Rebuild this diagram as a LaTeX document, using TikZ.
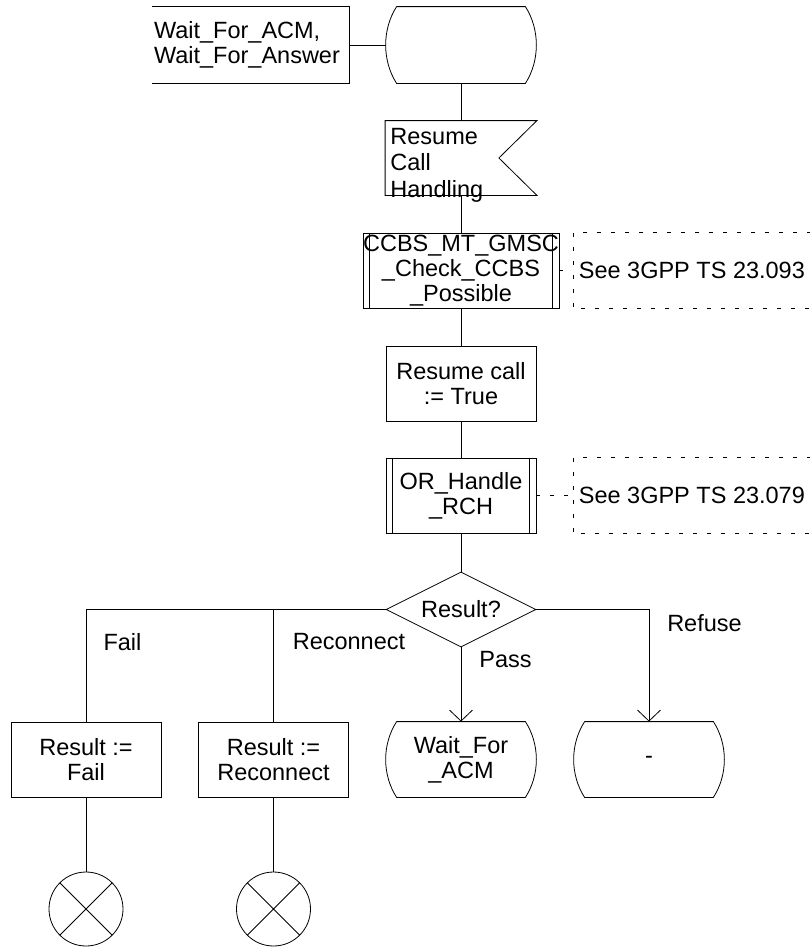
\documentclass[tikz,border=0pt]{standalone}
\usepackage{fontspec}
\setmainfont{Liberation Sans}
\usepackage{tikz}
\usetikzlibrary{shapes.geometric, arrows.meta, positioning, calc}

% outline of an SDL state symbol round a named node
\newcommand{\stateshape}[1]{%
  \draw ([xshift=11pt]#1.north west) -- ([xshift=-11pt]#1.north east)
    .. controls ([xshift=3.6pt,yshift=-22.8pt]#1.north east) and ([xshift=3.6pt,yshift=22.8pt]#1.south east) .. ([xshift=-11pt]#1.south east)
    -- ([xshift=11pt]#1.south west)
    .. controls ([xshift=-3.6pt,yshift=22.8pt]#1.south west) and ([xshift=-3.6pt,yshift=-22.8pt]#1.north west) .. ([xshift=11pt]#1.north west);}

\begin{document}
\begin{tikzpicture}[x=1pt, y=-1pt, line width=0.8pt,
  font=\fontsize{23.5}{25}\selectfont,
  box/.style={draw, rectangle, minimum width=150pt, minimum height=75pt, inner sep=0pt, align=center},
  statebox/.style={rectangle, minimum width=150pt, minimum height=75pt, inner sep=0pt, align=center},
  decision/.style={draw, diamond, aspect=2, minimum width=150pt, minimum height=75pt, inner sep=0pt},
  stopsign/.style={draw, circle, minimum size=74pt, inner sep=0pt,
    path picture={\draw (path picture bounding box.north west) -- (path picture bounding box.south east)
      (path picture bounding box.north east) -- (path picture bounding box.south west);}},
  cmtline/.style={dash pattern=on 4pt off 10pt},
  flow/.style={-{Straight Barb[length=11pt, width=23pt]}}]
\useasboundingbox (0,0) rectangle (810,948);

% Start state with its comment
\node[rectangle, minimum width=197pt, minimum height=76pt, text width=193pt, inner xsep=2pt, align=left] (cmt) at (250.5,45) {Wait\_For\_ACM,\\Wait\_For\_Answer};
\draw (cmt.north west) -- (cmt.north east) -- (cmt.south east) -- (cmt.south west);
\node[statebox, minimum height=76pt] (start) at (461,45) {};
\stateshape{start}
\draw (cmt.east) -- (start.west);

% Input signal
\node[statebox, minimum width=151pt, minimum height=74pt] (resume) at (461,158) {};
\draw (resume.north west) -- (resume.north east) -- ([xshift=-38pt]resume.east) -- (resume.south east) -- (resume.south west) -- cycle;
\node[anchor=north west, inner sep=0pt, align=left, font=\fontsize{23.5}{26.5}\selectfont] (resumetxt) at (390,127.5) {Resume\\Call\\Handling};
\draw (start) -- (resume);

% CCBS check procedure
\node[box] (ccbs) at (461,270.5) {CCBS\_MT\_GMSC\\\_Check\_CCBS\\\_Possible};
\draw ([xshift=7pt]ccbs.north west) -- ([xshift=7pt]ccbs.south west);
\draw ([xshift=-7pt]ccbs.north east) -- ([xshift=-7pt]ccbs.south east);
\draw (resume) -- (ccbs);
\node[rectangle, minimum width=237pt, minimum height=75pt, anchor=west] (see1) at (573,270.5) {See 3GPP TS 23.093};
\draw[cmtline] (see1.north east) -- (see1.north west) -- (see1.south west) -- (see1.south east);
\draw[cmtline] (ccbs) -- (see1);

% Task
\node[box] (setres) at (461,383.5) {Resume call\\:= True};
\draw (ccbs) -- (setres);

% OR handling procedure
\node[box] (orrch) at (461,495.5) {OR\_Handle\\\_RCH};
\draw ([xshift=7pt]orrch.north west) -- ([xshift=7pt]orrch.south west);
\draw ([xshift=-7pt]orrch.north east) -- ([xshift=-7pt]orrch.south east);
\draw (setres) -- (orrch);
\node[rectangle, minimum width=237pt, minimum height=75pt, anchor=west] (see2) at (573,495.5) {See 3GPP TS 23.079};
\draw[cmtline] (see2.north east) -- (see2.north west) -- (see2.south west) -- (see2.south east);
\draw[cmtline] (orrch) -- (see2);

% Decision
\node[decision] (result) at (461,609.5) {Result?};
\draw (orrch) -- (result);

% Outcomes
\node[box] (fail) at (86,759.5) {Result :=\\Fail};
\node[box] (reconn) at (273.5,759.5) {Result :=\\Reconnect};
\node[statebox] (waitacm) at (461,759.5) {Wait\_For\\\_ACM};
\stateshape{waitacm}
\node[statebox] (same) at (649,759.5) {-};
\stateshape{same}

\draw (result.west) -| (fail);
\draw (result.west) -| (reconn);
\draw[flow] (result.south) -- (waitacm.north);
\draw[flow] (result.east) -| (same.north);

\node (lfail) at (122.5,642) {Fail};
\node (lreconn) at (349,642) {Reconnect};
\node (lpass) at (505.5,660) {Pass};
\node (lrefuse) at (704.5,623) {Refuse};

% Terminators
\node[stopsign] (stop1) at (86,909) {};
\node[stopsign] (stop2) at (273.5,909) {};
\draw (fail) -- (stop1);
\draw (reconn) -- (stop2);
\end{tikzpicture}
\end{document}
